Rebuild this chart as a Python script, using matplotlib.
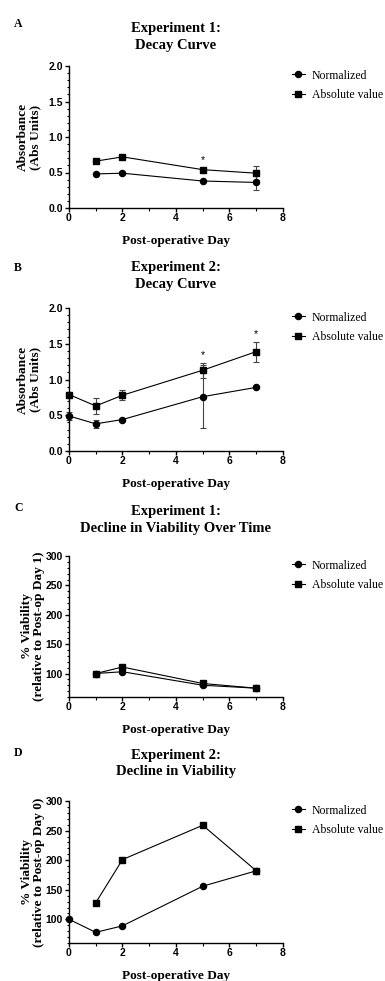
import matplotlib
matplotlib.use("Agg")
import matplotlib.pyplot as plt
from matplotlib.lines import Line2D
from matplotlib.ticker import MultipleLocator

# panel A: experiment 1 decay curve
a_days = [1, 2, 5, 7]
a_norm = [0.48, 0.49, 0.38, 0.36]
a_norm_err = [0, 0, 0, 0.11]
a_abs = [0.66, 0.72, 0.54, 0.49]
a_abs_err = [0, 0, 0, 0.10]
a_stars = [5]

# panel B: experiment 2 decay curve
b_days = [0, 1, 2, 5, 7]
b_norm = [0.49, 0.38, 0.44, 0.76, 0.89]
b_norm_err = [0.06, 0.06, 0, 0.44, 0]
b_abs = [0.79, 0.63, 0.78, 1.13, 1.39]
b_abs_err = [0.04, 0.11, 0.07, 0.105, 0.14]
b_stars = [5, 7]

# panel C: experiment 1 viability
c_days = [1, 2, 5, 7]
c_norm = [100, 103, 80, 75]
c_abs = [100, 111, 83, 75]

# panel D: experiment 2 viability
d_norm_days = [0, 1, 2, 5, 7]
d_norm = [100, 78, 89, 156, 182]
d_abs_days = [1, 2, 5, 7]
d_abs = [128, 201, 259, 182]

SERIF = "Liberation Serif"
SANS = "Liberation Sans"

fig = plt.figure(figsize=(3.85, 9.81), dpi=100)

W = 385.0
H = 981.0
left = 69 / W
width = 214 / W
# (top px, bottom px) of each axes box
boxes = [(66, 208), (308, 451), (556, 697), (801, 943)]
letters = ["A", "B", "C", "D"]
letter_y = [24, 268, 508, 753]
titles = ["Experiment 1:\nDecay Curve",
          "Experiment 2:\nDecay Curve",
          "Experiment 1:\nDecline in Viability Over Time",
          "Experiment 2:\nDecline in Viability"]
title_pads = [12.5, 14.5, 17.5, 18.5]
ylabels = ["Absorbance\n(Abs Units)",
           "Absorbance\n(Abs Units)",
           "% Viability\n(relative to Post-op Day 1)",
           "% Viability\n(relative to Post-op Day 0)"]

axes = []
for i, (top, bot) in enumerate(boxes):
    ax = fig.add_axes([left, 1 - bot / H, width, (bot - top) / H])
    axes.append(ax)
    fig.text(14 / W, 1 - letter_y[i] / H, letters[i], family=SERIF,
             weight="bold", fontsize=8.5, va="center", ha="left")

line_kw = dict(color="black", linewidth=0.8, markersize=4.4,
               ecolor="#444444", elinewidth=0.8, capsize=2.5, capthick=0.8,
               clip_on=False)


def style(ax, n, ylabel_x):
    ax.spines["top"].set_visible(False)
    ax.spines["right"].set_visible(False)
    for s in ("left", "bottom"):
        ax.spines[s].set_linewidth(1.0)
    ax.set_xlim(0, 8)
    ax.xaxis.set_major_locator(MultipleLocator(2))
    ax.xaxis.set_minor_locator(MultipleLocator(1))
    ax.tick_params(which="major", length=3, width=1.0, direction="out")
    ax.tick_params(axis="x", which="major", pad=0.5)
    ax.tick_params(axis="y", which="major", pad=1.5)
    ax.tick_params(which="minor", length=1.7, width=0.8, direction="out")
    ax.tick_params(axis="x", which="minor", length=2.5)
    for lab in ax.get_xticklabels() + ax.get_yticklabels():
        lab.set_family(SANS)
        lab.set_weight("bold")
        lab.set_fontsize(7.5)
    ax.set_title(titles[n], family=SERIF, weight="bold", fontsize=10.5,
                 pad=title_pads[n], linespacing=1.35)
    ax.set_xlabel("Post-operative Day", family=SERIF, weight="bold",
                  fontsize=9.5)
    ax.xaxis.set_label_coords(0.5, -0.19)
    ax.set_ylabel(ylabels[n], family=SERIF, weight="bold", fontsize=9.6,
                  linespacing=1.0)
    ax.yaxis.set_label_coords(ylabel_x, 0.5)
    handles = [Line2D([], [], color="black", lw=0.8, marker="o", markersize=4.4),
               Line2D([], [], color="black", lw=0.8, marker="s", markersize=4.4)]
    ax.legend(handles, ["Normalized", "Absolute value"], loc="upper left",
              bbox_to_anchor=(1.04, 0.975), frameon=False,
              prop={"family": SERIF, "size": 8.5}, handlelength=1.1,
              handletextpad=0.6, borderpad=0, borderaxespad=0,
              labelspacing=0.62)


# A
ax = axes[0]
ax.errorbar(a_days, a_norm, yerr=a_norm_err, marker="o", **line_kw)
ax.errorbar(a_days, a_abs, yerr=a_abs_err, marker="s", **line_kw)
for d in a_stars:
    i = a_days.index(d)
    ax.text(d, a_abs[i] + a_abs_err[i] + 0.07, "*", ha="center", va="bottom",
            family=SANS, fontsize=7.5)
ax.set_ylim(0, 2.0)
ax.yaxis.set_minor_locator(MultipleLocator(0.1))
ax.set_yticks([0, 0.5, 1.0, 1.5, 2.0], ["0.0", "0.5", "1.0", "1.5", "2.0"])
style(ax, 0, -0.13)

# B
ax = axes[1]
ax.errorbar(b_days, b_norm, yerr=b_norm_err, marker="o", **line_kw)
ax.errorbar(b_days, b_abs, yerr=b_abs_err, marker="s", **line_kw)
for d in b_stars:
    i = b_days.index(d)
    ax.text(d, b_abs[i] + b_abs_err[i] + 0.04, "*", ha="center", va="bottom",
            family=SANS, fontsize=7.5)
ax.set_ylim(0, 2.0)
ax.yaxis.set_minor_locator(MultipleLocator(0.1))
ax.set_yticks([0, 0.5, 1.0, 1.5, 2.0], ["0.0", "0.5", "1.0", "1.5", "2.0"])
style(ax, 1, -0.13)

# C
ax = axes[2]
ax.errorbar(c_days, c_norm, marker="o", **line_kw)
ax.errorbar(c_days, c_abs, marker="s", **line_kw)
ax.set_ylim(60, 300)
ax.set_yticks([100, 150, 200, 250, 300])
ax.yaxis.set_minor_locator(MultipleLocator(10))
style(ax, 2, -0.11)

# D
ax = axes[3]
ax.errorbar(d_norm_days, d_norm, marker="o", **line_kw)
ax.errorbar(d_abs_days, d_abs, marker="s", **line_kw)
ax.set_ylim(60, 300)
ax.set_yticks([100, 150, 200, 250, 300])
ax.yaxis.set_minor_locator(MultipleLocator(10))
style(ax, 3, -0.11)

fig.savefig("out.png", dpi=100)
